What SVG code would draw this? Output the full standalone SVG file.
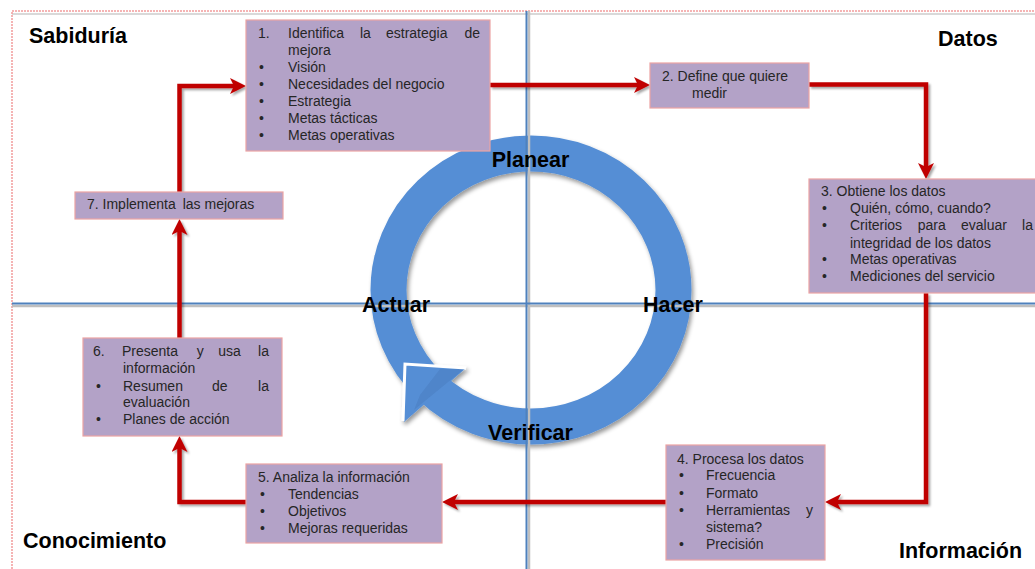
<svg xmlns="http://www.w3.org/2000/svg" width="1035" height="569" viewBox="0 0 1035 569">
<style>
.box{fill:#B3A2C7;stroke:#EBA3A3;stroke-width:1.2}
.t{font-family:"Liberation Sans",Arial,sans-serif;font-size:14px;fill:#262626}
.q{font-family:"Liberation Sans",Arial,sans-serif;font-size:21.5px;font-weight:bold;fill:#000}
.con{fill:none;stroke:#C00000;stroke-width:4.5;stroke-linejoin:miter}
.axis{stroke:#4F81BD;stroke-width:2}
.axs{stroke:#BFBFBF;stroke-width:2.5}
</style>
<defs>
<filter id="sh" x="-10%" y="-10%" width="130%" height="130%">
<feDropShadow dx="2" dy="2" stdDeviation="1" flood-color="#000" flood-opacity="0.35"/>
</filter>
<filter id="rsh" x="-10%" y="-10%" width="130%" height="130%">
<feDropShadow dx="2" dy="3" stdDeviation="2" flood-color="#000" flood-opacity="0.4"/>
</filter>
<marker id="ah" markerUnits="userSpaceOnUse" markerWidth="18" markerHeight="16" refX="8" refY="8" orient="auto" viewBox="0 0 18 16">
<path d="M0,0 L16,8 L0,16 L4,8 z" fill="#C00000"/>
</marker>
</defs>
<rect width="1035" height="569" fill="#fff"/>
<!-- outer frame -->
<line x1="12" y1="14" x2="1035" y2="14" stroke="#D9D9D9" stroke-width="2"/>
<path d="M12,569 V11 H1035" fill="none" stroke="#F29C9C" stroke-width="1.5" stroke-dasharray="2 1"/>

<!-- cycle ring -->
<g id="cycle" filter="url(#rsh)">
<ellipse cx="531" cy="290" rx="142.5" ry="136.5" fill="none" stroke="#558ED5" stroke-width="36"/>
<polygon points="405,365 466,368 404,422" fill="#558ED5"/>
<polygon points="440,369 464,369 414,410 420,395" fill="#4677B8" opacity="0.4"/>
<polyline points="466,368 405,364 403,421" fill="none" stroke="#FFFFFF" stroke-width="3"/>
</g>

<!-- axes -->
<g id="axes">
<line class="axs" x1="12" y1="306" x2="1035" y2="306"/>
<line class="axs" x1="529" y1="11" x2="529" y2="569"/>
<line class="axis" x1="12" y1="303.5" x2="1035" y2="303.5"/>
<line class="axis" x1="526.5" y1="11" x2="526.5" y2="569"/>
</g>

<!-- cycle labels -->
<g id="cycle-labels">
<text class="q" x="530.5" y="167" text-anchor="middle">Planear</text>
<text class="q" x="362" y="312">Actuar</text>
<text class="q" x="643" y="312">Hacer</text>
<text class="q" x="530.5" y="439.5" text-anchor="middle">Verificar</text>
</g>

<!-- connectors -->
<g id="connectors" filter="url(#sh)">
<path class="con" d="M179.5,192 V86 H238" marker-end="url(#ah)"/>
<path class="con" d="M490,85 H642" marker-end="url(#ah)"/>
<path class="con" d="M809,84.5 H926 V171" marker-end="url(#ah)"/>
<path class="con" d="M926,293 V502 H833" marker-end="url(#ah)"/>
<path class="con" d="M666,502 H450" marker-end="url(#ah)"/>
<path class="con" d="M246,502 H179.5 V444" marker-end="url(#ah)"/>
<path class="con" d="M179.5,338 V227" marker-end="url(#ah)"/>
</g>

<!-- nodes -->
<g id="n1">
<rect class="box" x="246" y="20" width="244" height="131"/>
<text class="t" x="258" y="38">1.</text>
<text class="t" x="288" y="38">Identifica</text>
<text class="t" x="360" y="38">la</text>
<text class="t" x="386" y="38">estrategia</text>
<text class="t" x="480" y="38" text-anchor="end">de</text>
<text class="t" x="288" y="55">mejora</text>
<text class="t" x="259" y="72">•</text><text class="t" x="288" y="72">Visión</text>
<text class="t" x="259" y="89">•</text><text class="t" x="288" y="89">Necesidades del negocio</text>
<text class="t" x="259" y="106">•</text><text class="t" x="288" y="106">Estrategia</text>
<text class="t" x="259" y="122.5">•</text><text class="t" x="288" y="122.5">Metas tácticas</text>
<text class="t" x="259" y="139.5">•</text><text class="t" x="288" y="139.5">Metas operativas</text>
</g>

<g id="n2">
<rect class="box" x="650" y="63" width="159" height="45"/>
<text class="t" x="662" y="81">2. Define que quiere</text>
<text class="t" x="692" y="97.5">medir</text>
</g>

<g id="n3">
<rect class="box" x="809" y="179" width="240" height="114"/>
<text class="t" x="821" y="196">3. Obtiene los datos</text>
<text class="t" x="822" y="213.3">•</text><text class="t" x="850" y="213.3">Quién, cómo, cuando?</text>
<text class="t" x="822" y="230.3">•</text>
<text class="t" x="850" y="230.3">Criterios</text>
<text class="t" x="917.7" y="230.3">para</text>
<text class="t" x="961" y="230.3">evaluar</text>
<text class="t" x="1033" y="230.3" text-anchor="end">la</text>
<text class="t" x="850" y="247.7">integridad de los datos</text>
<text class="t" x="822" y="264.3">•</text><text class="t" x="850" y="264.3">Metas operativas</text>
<text class="t" x="822" y="281.3">•</text><text class="t" x="850" y="281.3">Mediciones del servicio</text>
</g>

<g id="n4">
<rect class="box" x="666" y="445" width="159" height="115"/>
<text class="t" x="677" y="463.7">4. Procesa los datos</text>
<text class="t" x="679" y="480.3">•</text><text class="t" x="706" y="480.3">Frecuencia</text>
<text class="t" x="679" y="497.7">•</text><text class="t" x="706" y="497.7">Formato</text>
<text class="t" x="679" y="515">•</text><text class="t" x="706" y="515">Herramientas</text>
<text class="t" x="813" y="515" text-anchor="end">y</text>
<text class="t" x="706" y="531.7">sistema?</text>
<text class="t" x="679" y="549">•</text><text class="t" x="706" y="549">Precisión</text>
</g>

<g id="n5">
<rect class="box" x="246" y="464" width="196" height="79"/>
<text class="t" x="258" y="481.7">5. Analiza la información</text>
<text class="t" x="260" y="499">•</text><text class="t" x="288" y="499">Tendencias</text>
<text class="t" x="260" y="515.7">•</text><text class="t" x="288" y="515.7">Objetivos</text>
<text class="t" x="260" y="533">•</text><text class="t" x="288" y="533">Mejoras requeridas</text>
</g>

<g id="n6">
<rect class="box" x="83" y="338" width="199" height="98"/>
<text class="t" x="93" y="356">6.</text>
<text class="t" x="122" y="356">Presenta</text>
<text class="t" x="196.7" y="356">y</text>
<text class="t" x="218.3" y="356">usa</text>
<text class="t" x="269" y="356" text-anchor="end">la</text>
<text class="t" x="123" y="373.3">información</text>
<text class="t" x="96" y="390.7">•</text>
<text class="t" x="123" y="390.7">Resumen</text>
<text class="t" x="212" y="390.7">de</text>
<text class="t" x="269" y="390.7" text-anchor="end">la</text>
<text class="t" x="123" y="407.3">evaluación</text>
<text class="t" x="96" y="424.3">•</text><text class="t" x="123" y="424.3">Planes de acción</text>
</g>

<g id="n7">
<rect class="box" x="75" y="192" width="208" height="27"/>
<text class="t" x="87" y="209">7. Implementa<tspan x="182.7">las mejoras</tspan></text>
</g>

<!-- quadrant labels -->
<g id="quadrants">
<text class="q" x="29" y="43">Sabiduría</text>
<text class="q" x="938" y="46">Datos</text>
<text class="q" x="23" y="547.7">Conocimiento</text>
<text class="q" x="899" y="557.7">Información</text>
</g>
</svg>
